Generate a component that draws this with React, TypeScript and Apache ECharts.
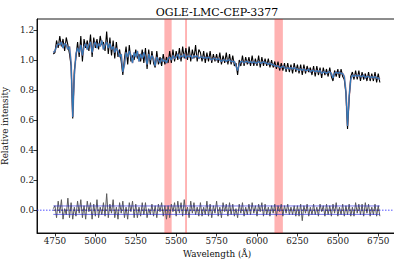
import React, { useEffect, useRef } from "react";
import * as echarts from "echarts";

const TITLE = "OGLE-LMC-CEP-3377";
const X_LABEL = "Wavelength (Å)";
const Y_LABEL = "Relative intensity";

const WAVE_START = 4740;
const WAVE_STEP = 10;

const X_TICKS = [4750, 5000, 5250, 5500, 5750, 6000, 6250, 6500, 6750];
const Y_TICKS = [0.0, 0.2, 0.4, 0.6, 0.8, 1.0, 1.2];

// masked wavelength regions [start, end]
const BANDS = [
  [5427, 5472],
  [5555, 5567],
  [6108, 6160],
];

// best-fit model spectrum (4740 .. 6760 every 10 Å)
const MODEL = [
  1.05,
  1.06, 1.09, 1.11, 1.10, 1.12, 1.08, 1.11, 1.10, 1.07, 1.09,
  0.98, 0.62, 0.90, 1.04, 1.08, 1.05, 1.10, 1.03, 1.09, 1.11,
  1.07, 1.10, 1.12, 1.05, 1.10, 1.12, 1.08, 1.11, 1.09, 1.13,
  1.07, 1.10, 1.12, 1.08, 1.11, 1.07, 1.09, 1.05, 1.08, 1.06,
  1.02, 1.04, 0.92, 0.97, 1.05, 1.02, 1.06, 1.03, 0.98, 1.05,
  1.02, 1.06, 0.99, 1.04, 1.01, 1.05, 1.02, 0.97, 1.04, 1.00,
  1.03, 1.01, 0.96, 1.02, 1.00, 0.98, 1.01, 0.99, 1.00, 0.98,
  1.01, 1.02, 1.00, 1.03, 1.01, 1.02, 1.04, 1.01, 1.03, 1.02,
  1.04, 1.01, 1.03, 1.02, 1.03, 1.01, 1.03, 1.02, 1.03, 1.01,
  1.02, 1.02, 1.01, 1.02, 1.01, 1.02, 1.01, 1.00, 1.01, 1.01,
  1.00, 1.01, 1.00, 0.99, 1.00, 1.00, 0.99, 1.00, 1.00, 0.99,
  0.99, 0.99, 0.96, 0.93, 0.97, 0.99, 0.99, 0.98, 0.99, 0.99,
  0.98, 0.99, 0.98, 0.99, 0.98, 0.98, 0.99, 0.98, 0.98, 0.99,
  0.98, 0.98, 0.97, 0.98, 0.97, 0.97, 0.96, 0.96, 0.96, 0.95,
  0.95, 0.96, 0.95, 0.94, 0.95, 0.94, 0.95, 0.94, 0.95, 0.94,
  0.94, 0.93, 0.94, 0.93, 0.94, 0.93, 0.93, 0.94, 0.92, 0.93,
  0.93, 0.92, 0.93, 0.92, 0.93, 0.91, 0.92, 0.92, 0.91, 0.92,
  0.92, 0.91, 0.88, 0.91, 0.92, 0.91, 0.92, 0.91, 0.91, 0.89,
  0.79, 0.56, 0.76, 0.87, 0.90, 0.89, 0.90, 0.89, 0.90, 0.89,
  0.89, 0.90, 0.88, 0.89, 0.89, 0.88, 0.89, 0.88, 0.89, 0.88,
  0.88, 0.87,
];

// observed spectrum
const OBSERVED = [
  1.04,
  1.05, 1.13, 1.08, 1.16, 1.09, 1.14, 1.06, 1.15, 1.10, 1.04,
  0.96, 0.61, 0.93, 1.02, 1.12, 1.02, 1.16, 0.99, 1.14, 1.08,
  1.13, 1.06, 1.17, 1.02, 1.15, 1.08, 1.14, 1.07, 1.16, 1.10,
  1.12, 1.06, 1.19, 1.04, 1.15, 1.03, 1.13, 1.01, 1.12, 1.02,
  1.07, 0.99, 0.90, 1.01, 1.09, 0.97, 1.10, 0.99, 1.03, 1.00,
  1.07, 1.01, 1.04, 0.99, 1.07, 0.98, 1.08, 0.94, 1.07, 0.97,
  1.06, 0.98, 0.95, 1.06, 0.97, 1.02, 0.96, 1.04, 0.97, 1.02,
  0.98, 1.06, 0.98, 1.07, 0.99, 1.06, 1.00, 1.08, 0.99, 1.09,
  1.01, 1.08, 1.00, 1.09, 0.99, 1.07, 1.01, 1.10, 0.99, 1.07,
  1.05, 0.99, 1.06, 0.98, 1.05, 0.99, 1.06, 0.98, 1.04, 0.99,
  1.04, 0.98, 1.05, 0.97, 1.03, 0.98, 1.05, 0.97, 1.04, 0.97,
  1.03, 0.96, 0.98, 0.90, 1.00, 0.96, 1.03, 0.96, 1.02, 0.97,
  1.02, 0.96, 1.03, 0.96, 1.01, 0.96, 1.03, 0.95, 1.02, 0.96,
  1.01, 0.96, 1.01, 0.95, 1.00, 0.95, 0.99, 0.94, 0.99, 0.93,
  0.98, 0.93, 0.98, 0.92, 0.98, 0.92, 0.97, 0.91, 0.98, 0.92,
  0.97, 0.91, 0.97, 0.90, 0.97, 0.91, 0.96, 0.92, 0.95, 0.90,
  0.96, 0.89, 0.96, 0.90, 0.95, 0.88, 0.95, 0.90, 0.94, 0.89,
  0.95, 0.89, 0.86, 0.93, 0.89, 0.94, 0.88, 0.94, 0.89, 0.87,
  0.78, 0.54, 0.74, 0.89, 0.92, 0.87, 0.93, 0.87, 0.93, 0.86,
  0.92, 0.87, 0.91, 0.86, 0.92, 0.86, 0.91, 0.86, 0.92, 0.85,
  0.91, 0.85,
];

// residuals (observed - model)
const RESIDUAL = [
  0.01,
  0.03, -0.05, 0.06, -0.02, 0.07, -0.06, 0.01, -0.03, 0.08, -0.05,
  0.05, -0.06, 0.02, -0.04, 0.06, -0.02, 0.07, -0.05, 0.03, -0.06,
  0.06, -0.01, 0.05, -0.06, 0.04, -0.04, 0.07, -0.05, 0.02, -0.03,
  0.05, -0.04, 0.11, -0.05, 0.04, -0.02, 0.07, -0.05, 0.02, -0.06,
  0.05, -0.02, 0.06, -0.05, 0.02, -0.06, 0.05, -0.01, 0.06, -0.05,
  0.04, -0.05, 0.02, -0.04, 0.05, -0.03, 0.05, -0.05, 0.01, -0.03,
  0.04, -0.04, 0.03, -0.05, 0.04, -0.01, 0.05, -0.04, 0.03, -0.06,
  0.03, -0.05, 0.04, -0.01, 0.05, -0.04, 0.06, -0.02, 0.05, -0.04,
  0.07, -0.03, 0.02, -0.05, 0.06, -0.02, 0.05, -0.03, 0.02, -0.04,
  0.05, -0.04, 0.02, -0.03, 0.06, -0.04, 0.04, -0.05, 0.03, -0.02,
  0.06, -0.04, 0.02, -0.05, 0.05, -0.01, 0.04, -0.04, 0.05, -0.03,
  0.04, -0.04, 0.01, -0.05, 0.04, -0.02, 0.05, -0.04, 0.02, -0.03,
  0.04, -0.03, 0.05, -0.02, 0.03, -0.04, 0.04, -0.01, 0.05, -0.04,
  0.04, -0.03, 0.02, -0.04, 0.03, -0.02, 0.04, -0.04, 0.03, -0.01,
  0.04, -0.04, 0.03, -0.02, 0.04, -0.03, 0.02, -0.03, 0.03, -0.04,
  0.03, -0.04, 0.04, -0.07, 0.03, -0.02, 0.04, -0.04, 0.02, -0.03,
  0.04, -0.03, 0.02, -0.04, 0.04, -0.01, 0.03, -0.04, 0.04, -0.03,
  0.03, -0.04, 0.04, -0.02, 0.05, -0.04, 0.02, -0.03, 0.04, -0.04,
  0.03, -0.03, 0.04, -0.04, 0.02, -0.04, 0.05, -0.02, 0.04, -0.03,
  0.04, -0.04, 0.05, -0.02, 0.04, -0.04, 0.02, -0.03, 0.04, -0.04,
  0.03, -0.04,
];

const SIGMA = 0.028;
const X_MIN = 4639;
const X_MAX = 6866;
const Y_MIN = -0.152;
const Y_MAX = 1.273;

const FONT = "'DejaVu Serif', 'Liberation Serif', serif";

function pairs(arr: number[]) {
  return arr.map((v, i) => [WAVE_START + i * WAVE_STEP, v]);
}

export default function App() {
  const ref = useRef<HTMLDivElement>(null);
  useEffect(() => {
    if (!ref.current) return;
    const chart = echarts.init(ref.current, null, { renderer: "svg" });
    const lastWave = WAVE_START + (MODEL.length - 1) * WAVE_STEP;
    chart.setOption({
      animation: false,
      backgroundColor: "#ffffff",
      textStyle: { fontFamily: FONT },
      graphic: [
        {
          type: "text",
          x: 217,
          y: 12.5,
          style: {
            text: TITLE,
            align: "center",
            verticalAlign: "middle",
            font: `11px 'DejaVu Serif', serif`,
            fill: "#000",
          },
        },
      ],
      grid: {
        left: 37,
        top: 19,
        right: -3,
        bottom: 26,
        containLabel: false,
        outerBoundsMode: "none",
        show: true,
        borderColor: "#000",
        borderWidth: 0.9,
        backgroundColor: "transparent",
      },
      xAxis: {
        type: "value",
        min: X_MIN,
        max: X_MAX,
        name: X_LABEL,
        nameLocation: "middle",
        nameGap: 16,
        nameTextStyle: { fontFamily: FONT, fontSize: 8.8, color: "#111" },
        splitLine: { show: false },
        axisLine: { show: true, onZero: false, lineStyle: { color: "#000", width: 0.9 } },
        axisTick: { show: true, inside: false, length: 3.5, customValues: X_TICKS, lineStyle: { color: "#000", width: 0.8 } },
        axisLabel: {
          customValues: X_TICKS,
          fontFamily: FONT,
          fontSize: 8.8,
          color: "#222",
          margin: 3,
          formatter: (v: number) => String(v),
        },
      },
      yAxis: {
        type: "value",
        min: Y_MIN,
        max: Y_MAX,
        name: Y_LABEL,
        nameLocation: "middle",
        nameRotate: 90,
        nameGap: 25,
        nameTextStyle: { fontFamily: FONT, fontSize: 8.8, color: "#111" },
        splitLine: { show: false },
        axisLine: { show: true, onZero: false, lineStyle: { color: "#000", width: 0.9 } },
        axisTick: { show: true, inside: false, length: 3.5, customValues: Y_TICKS, lineStyle: { color: "#000", width: 0.8 } },
        axisLabel: {
          customValues: Y_TICKS,
          fontFamily: FONT,
          fontSize: 8.8,
          color: "#222",
          margin: 3,
          formatter: (v: number) => v.toFixed(1),
        },
      },
      series: [
        {
          type: "line",
          data: [],
          z: 1,
          silent: true,
          markArea: {
            silent: true,
            itemStyle: { color: "rgba(255,0,0,0.3)" },
            data: BANDS.map(([a, b]) => [{ xAxis: a }, { xAxis: b }]),
          },
        },
        {
          type: "line",
          data: pairs(OBSERVED),
          z: 2,
          showSymbol: false,
          symbol: "none",
          lineStyle: { color: "#000", width: 1.1 },
        },
        {
          type: "line",
          data: pairs(MODEL),
          z: 3,
          showSymbol: false,
          symbol: "none",
          lineStyle: { color: "rgba(200,60,80,0.5)", width: 1.8 },
        },
        {
          type: "line",
          data: pairs(MODEL),
          z: 4,
          showSymbol: false,
          symbol: "none",
          lineStyle: { color: "#2a7fc0", width: 1.3, opacity: 0.92 },
        },
        {
          type: "line",
          data: pairs(RESIDUAL),
          z: 2,
          showSymbol: false,
          symbol: "none",
          lineStyle: { color: "#5a5a5a", width: 1 },
        },
        {
          type: "line",
          data: [[WAVE_START, SIGMA], [lastWave, SIGMA]],
          z: 3,
          showSymbol: false,
          symbol: "none",
          lineStyle: { color: "rgba(40,40,220,0.8)", width: 0.8 },
        },
        {
          type: "line",
          data: [[WAVE_START, -SIGMA], [lastWave, -SIGMA]],
          z: 3,
          showSymbol: false,
          symbol: "none",
          lineStyle: { color: "rgba(40,40,220,0.8)", width: 0.8 },
        },
        {
          type: "line",
          data: [[WAVE_START, 0], [lastWave, 0]],
          z: 3,
          showSymbol: false,
          symbol: "none",
          lineStyle: { color: "#3a2a2a", width: 1, type: [2, 2] },
        },
        {
          type: "line",
          data: [[X_MIN, 0], [X_MAX, 0]],
          z: 3,
          showSymbol: false,
          symbol: "none",
          lineStyle: { color: "rgba(40,40,255,0.8)", width: 1, type: [1.5, 1.5] },
        },
      ],
    });
    return () => chart.dispose();
  }, []);
  return (
    <div style={{ position: "fixed", left: 0, top: 0, width: 394, height: 259, background: "#fff" }}>
      <div ref={ref} style={{ width: 394, height: 259 }} />
    </div>
  );
}
